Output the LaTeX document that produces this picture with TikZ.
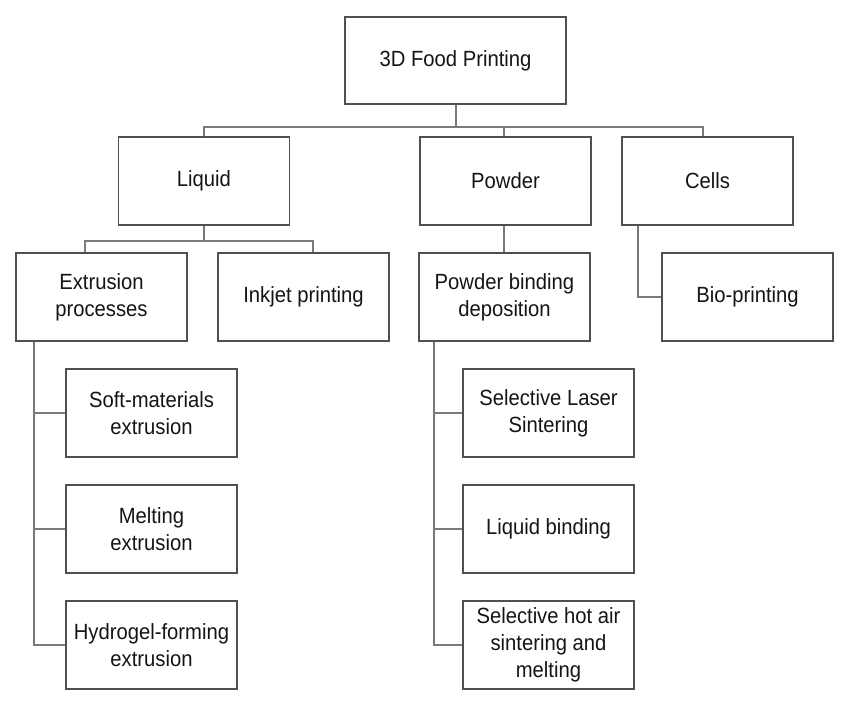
\documentclass[tikz,border=0pt]{standalone}
\usepackage{fontspec}
\setmainfont{Liberation Sans}[FakeStretch=0.92]
\definecolor{boxline}{HTML}{505050}
\definecolor{linkline}{HTML}{7A7A7A}
\definecolor{txt}{HTML}{151515}

\begin{document}
\begin{tikzpicture}[x=1pt, y=-1pt,
	box/.style={draw=boxline, line width=1.3pt, fill=white, minimum width=171pt,
		minimum height=88pt, inner sep=0pt, align=center, text=txt,
		font=\fontsize{22pt}{27pt}\selectfont},
	link/.style={draw=linkline, line width=2pt}]
	\useasboundingbox (0,0) rectangle (850,711);

	% tree levels
	\node[box, minimum width=221pt, minimum height=87pt] (food) at (455.5,60.5) {3D Food Printing};
	\node[box] (liquid) at (204,181) {Liquid};
	\node[box] (powder) at (505.5,181) {Powder};
	\node[box] (cells) at (707.5,181) {Cells};
	\node[box] (extrusion) at (101.5,297) {Extrusion\\processes};
	\node[box] (inkjet) at (303.5,297) {Inkjet printing};
	\node[box] (binding) at (504.5,297) {Powder binding\\deposition};
	\node[box] (bio) at (747.5,297) {Bio-printing};
	\node[box] (soft) at (151.5,413) {Soft-materials\\extrusion};
	\node[box] (melting) at (151.5,529) {Melting\\extrusion};
	\node[box] (hydrogel) at (151.5,645) {Hydrogel-forming\\extrusion};
	\node[box] (laser) at (548.5,413) {Selective Laser\\Sintering};
	\node[box] (liqbind) at (548.5,529) {Liquid binding};
	\node[box] (hotair) at (548.5,645) {Selective hot air\\sintering and\\melting};

	% connectors
	\draw[link]
	(food.south) -- ++(0,22) coordinate (fbus)
	(liquid.north) |- (fbus) -| ([xshift=-5pt]cells.north)
	(fbus) -| ([xshift=-1.5pt]powder.north)
	(liquid.south) -- ++(0,15) coordinate (lbus)
	([xshift=-16.5pt]extrusion.north) |- (lbus) -| ([xshift=9.5pt]inkjet.north)
	([xshift=-1.5pt]powder.south) -- ([xshift=-0.5pt]binding.north)
	([xshift=17pt]cells.south west) |- (bio.west)
	([xshift=19pt]extrusion.south west) |- (soft.west)
	([xshift=19pt]extrusion.south west) |- (melting.west)
	([xshift=19pt]extrusion.south west) |- (hydrogel.west)
	([xshift=16pt]binding.south west) |- (laser.west)
	([xshift=16pt]binding.south west) |- (liqbind.west)
	([xshift=16pt]binding.south west) |- (hotair.west)
	;
\end{tikzpicture}
\end{document}
